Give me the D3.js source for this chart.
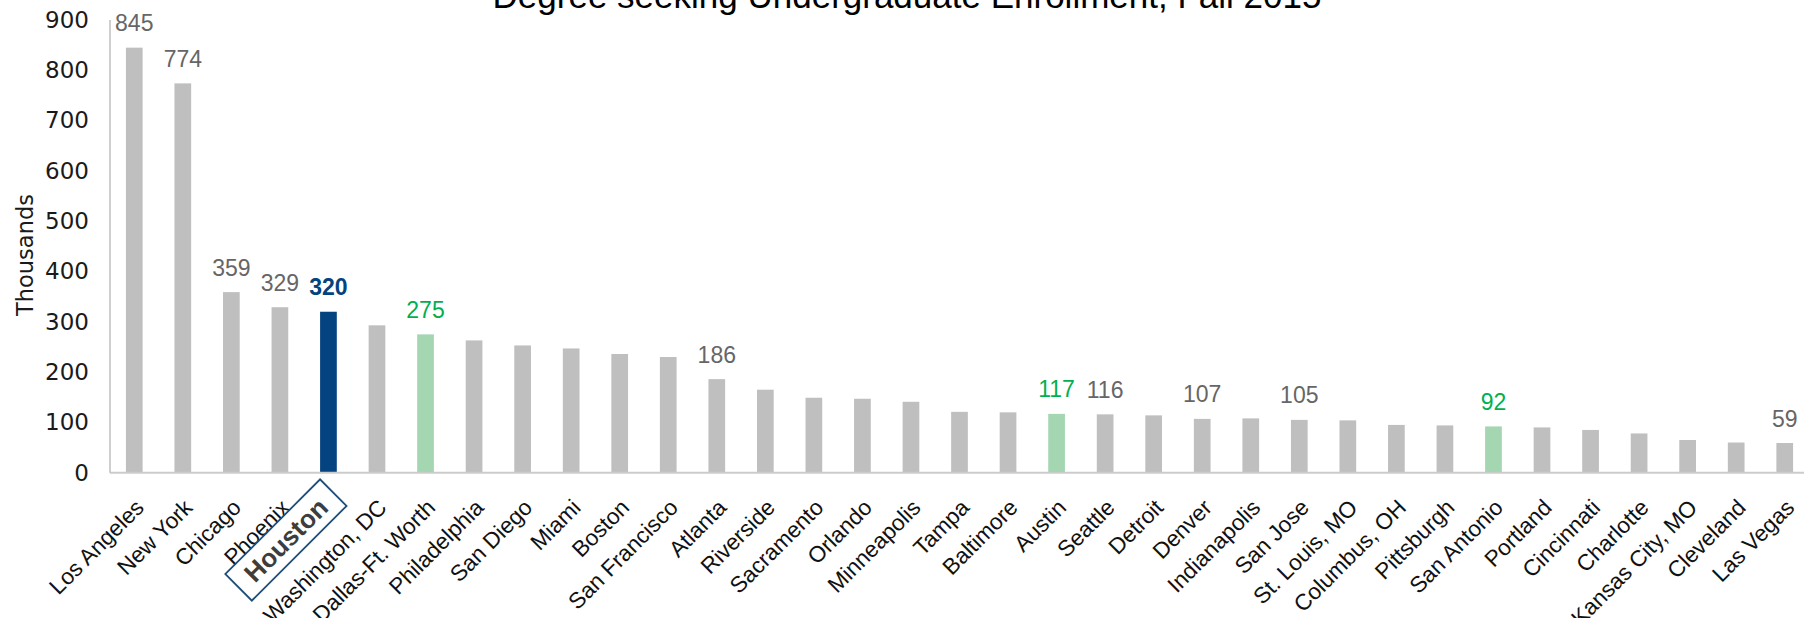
<!DOCTYPE html>
<html>
<head>
<meta charset="utf-8">
<script src="https://cdn.jsdelivr.net/npm/d3@7"></script>
<style>
  html, body { margin: 0; padding: 0; background: #fff; }
  svg { display: block; font-family: "Liberation Sans", Arial, sans-serif; }
</style>
</head>
<body>
<svg id="chart" width="1804" height="618"></svg>
<script>
// ---- data ----
const categories = ["Los Angeles","New York","Chicago","Phoenix","Houston","Washington, DC",
  "Dallas-Ft. Worth","Philadelphia","San Diego","Miami","Boston","San Francisco","Atlanta",
  "Riverside","Sacramento","Orlando","Minneapolis","Tampa","Baltimore","Austin","Seattle",
  "Detroit","Denver","Indianapolis","San Jose","St. Louis, MO","Columbus, OH","Pittsburgh",
  "San Antonio","Portland","Cincinnati","Charlotte","Kansas City, MO","Cleveland","Las Vegas"];
const enrollment = [845,774,359,329,320,293,275,263,253,247,236,230,186,165,149,147,141,121,120,
  117,116,114,107,108,105,104,95,94,92,90,85,78,65,60,59];
const labeledCities = ["Los Angeles","New York","Chicago","Phoenix","Houston","Dallas-Ft. Worth",
  "Atlanta","Austin","Seattle","Denver","San Jose","San Antonio","Las Vegas"];
const greenCities = ["Dallas-Ft. Worth","Austin","San Antonio"];
const highlightCity = "Houston";
const yTicks = [0,100,200,300,400,500,600,700,800,900];
const titleText = "Degree seeking Undergraduate Enrollment, Fall 2015";
const yTitle = "Thousands";

// ---- layout ----
const svg = d3.select("#chart");
const x0 = 110, x1 = 1809, yBase = 472.7, yTop = 20;
const pad = 0.656;
const x = d3.scaleBand().domain(categories).range([x0, x1]).paddingInner(pad).paddingOuter(pad / 2);
const y = d3.scaleLinear().domain([0, 900]).range([yBase, yTop]);

const colGray = "#bfbfbf", colNavy = "#03437f", colGreen = "#a3d6b1", colGreenText = "#00b050";

function barColor(c) {
  if (c === highlightCity) return colNavy;
  if (greenCities.includes(c)) return colGreen;
  return colGray;
}
function labelColor(c) {
  if (c === highlightCity) return colNavy;
  if (greenCities.includes(c)) return colGreenText;
  return "#666666";
}

const data = categories.map((c, i) => ({ c, v: enrollment[i] }));

// title
svg.append("text")
  .attr("x", 907).attr("y", 8)
  .attr("text-anchor", "middle")
  .attr("font-size", 35)
  .attr("fill", "#000")
  .text(titleText);

// y axis
const yAxis = d3.axisLeft(y).tickValues(yTicks).tickSize(0).tickPadding(21).tickFormat(d3.format("d"));
const gy = svg.append("g").attr("transform", `translate(${x0},0)`).call(yAxis);
gy.select(".domain").remove();
gy.selectAll("text").attr("font-size", 23).attr("fill", "#1a1a1a")
  .attr("font-family", "'DejaVu Sans', Verdana, sans-serif");

svg.append("text")
  .attr("transform", `translate(33,255) rotate(-90)`)
  .attr("text-anchor", "middle")
  .attr("font-family", "'DejaVu Sans', Verdana, sans-serif")
  .attr("font-size", 22.5)
  .attr("fill", "#1a1a1a")
  .text(yTitle);

// bars
svg.append("g").selectAll("rect").data(data).join("rect")
  .attr("x", d => x(d.c))
  .attr("width", x.bandwidth())
  .attr("y", d => y(d.v))
  .attr("height", d => y(0) - y(d.v))
  .attr("fill", d => barColor(d.c));

// axis lines
svg.append("line")
  .attr("x1", x0).attr("x2", 1804).attr("y1", yBase).attr("y2", yBase)
  .attr("stroke", "#cccccc").attr("stroke-width", 2);
svg.append("line")
  .attr("x1", x0).attr("x2", x0).attr("y1", yTop).attr("y2", yBase)
  .attr("stroke", "#bfbfbf").attr("stroke-width", 1.5);

// data labels
svg.append("g").selectAll("text").data(data.filter(d => labeledCities.includes(d.c))).join("text")
  .attr("x", d => x(d.c) + x.bandwidth() / 2)
  .attr("y", d => y(d.v) - 16.5)
  .attr("text-anchor", "middle")
  .attr("font-size", 23)
  .attr("font-weight", d => d.c === highlightCity ? "bold" : "normal")
  .attr("fill", d => labelColor(d.c))
  .text(d => d.v);

// x axis labels
const xAxis = d3.axisBottom(x).tickSize(0).tickPadding(0);
const gx = svg.append("g").attr("transform", `translate(0,${yBase})`).call(xAxis);
gx.select(".domain").remove();
gx.selectAll(".tick").attr("transform", null);
gx.selectAll(".tick text")
  .attr("font-family", "'Liberation Sans', Arial, sans-serif")
  .attr("font-size", 22.5)
  .attr("fill", "#111")
  .attr("text-anchor", "end")
  .attr("y", null).attr("dy", null)
  .attr("transform", d => `translate(${x(d) + x.bandwidth() / 2 + 11},${509 - yBase}) rotate(-45)`);

// Houston special label
const hx = x(highlightCity) + x.bandwidth() / 2;
const hTick = gx.selectAll(".tick").filter(d => d === highlightCity);
hTick.select("text")
  .attr("text-anchor", "middle")
  .attr("font-size", 26)
  .attr("font-weight", "bold")
  .attr("fill", "#3d3d3d")
  .attr("dy", "0.35em")
  .attr("transform", `translate(${hx - 42.5},${540 - yBase}) rotate(-45)`);
hTick.insert("rect", "text")
  .attr("x", -67).attr("y", -18.75)
  .attr("width", 134).attr("height", 37.5)
  .attr("fill", "none")
  .attr("stroke", "#1f4e79")
  .attr("stroke-width", 1.8)
  .attr("transform", `translate(${hx - 42.5},${540 - yBase}) rotate(-45)`);
</script>
</body>
</html>
